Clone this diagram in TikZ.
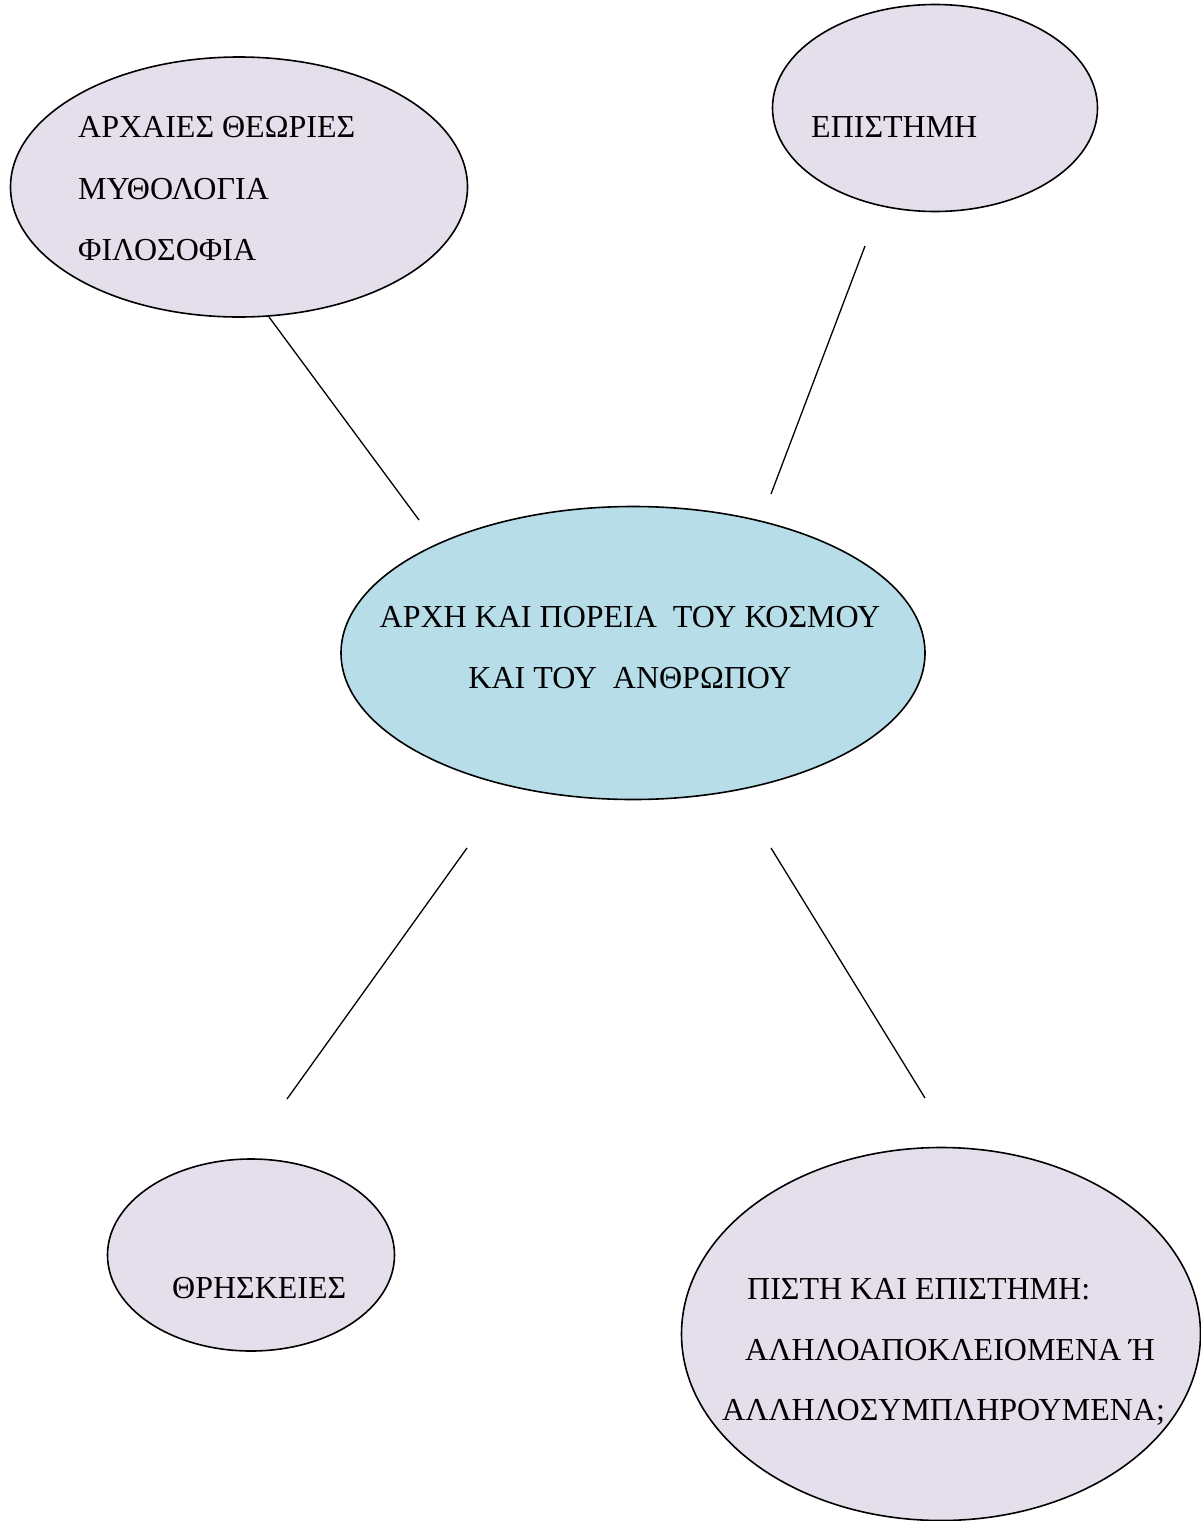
\documentclass[tikz,border=0pt]{standalone}
\usepackage{fontspec}
\setmainfont{Liberation Serif}
\usetikzlibrary{shapes.geometric}
\definecolor{lav}{HTML}{E5DFEC}
\definecolor{lblue}{HTML}{B7DDE8}
\begin{document}
\begin{tikzpicture}[x=1pt,y=-1pt,
  bubble/.style={ellipse,draw=black,line width=1.6pt,inner sep=0pt,fill=lav},
  lbl/.style={anchor=base west,inner sep=0pt,font=\fontsize{32}{38}\selectfont},
  clbl/.style={anchor=base,inner sep=0pt,font=\fontsize{32}{38}\selectfont},
  link/.style={line width=1.3pt}]
\useasboundingbox (0,0) rectangle (1201,1521);
% ellipses
\node[bubble,minimum width=457pt,minimum height=260pt] (anc) at (239,187) {};
\node[bubble,minimum width=325pt,minimum height=207pt] (sci) at (935,108) {};
\node[bubble,fill=lblue,minimum width=584pt,minimum height=293pt] (mid) at (633,653) {};
\node[bubble,minimum width=287pt,minimum height=192pt] (rel) at (251,1255) {};
\node[bubble,minimum width=519pt,minimum height=373pt] (fai) at (941,1334) {};
% texts
\node[lbl] (t1) at (78,137) {ΑΡΧΑΙΕΣ ΘΕΩΡΙΕΣ};
\node[lbl] (t2) at (78,199) {ΜΥΘΟΛΟΓΙΑ};
\node[lbl] (t3) at (78,260) {ΦΙΛΟΣΟΦΙΑ};
\node[lbl] (t4) at (811,137) {ΕΠΙΣΤΗΜΗ};
\node[clbl] (t5) at (630,627) {ΑΡΧΗ ΚΑΙ ΠΟΡΕΙΑ\ \ ΤΟΥ ΚΟΣΜΟΥ};
\node[clbl] (t6) at (630,688) {ΚΑΙ ΤΟΥ\ \ ΑΝΘΡΩΠΟΥ};
\node[lbl] (t7) at (172,1298) {ΘΡΗΣΚΕΙΕΣ};
\node[lbl] (t8) at (747,1299) {ΠΙΣΤΗ ΚΑΙ ΕΠΙΣΤΗΜΗ:};
\node[lbl] (t9) at (745,1360) {ΑΛΗΛΟΑΠΟΚΛΕΙΟΜΕΝΑ Ή};
\node[lbl] (t10) at (722,1420) {ΑΛΛΗΛΟΣΥΜΠΛΗΡΟΥΜΕΝΑ;};
% connector ends
\coordinate (a1) at (269,317);
\coordinate (a2) at (419,520);
\coordinate (b1) at (865,246);
\coordinate (b2) at (771,494);
\coordinate (c1) at (467,848);
\coordinate (c2) at (287,1099);
\coordinate (d1) at (771,848);
\coordinate (d2) at (925,1098);
\draw[link] (a1) -- (a2);
\draw[link] (b1) -- (b2);
\draw[link] (c1) -- (c2);
\draw[link] (d1) -- (d2);
\end{tikzpicture}
\end{document}
